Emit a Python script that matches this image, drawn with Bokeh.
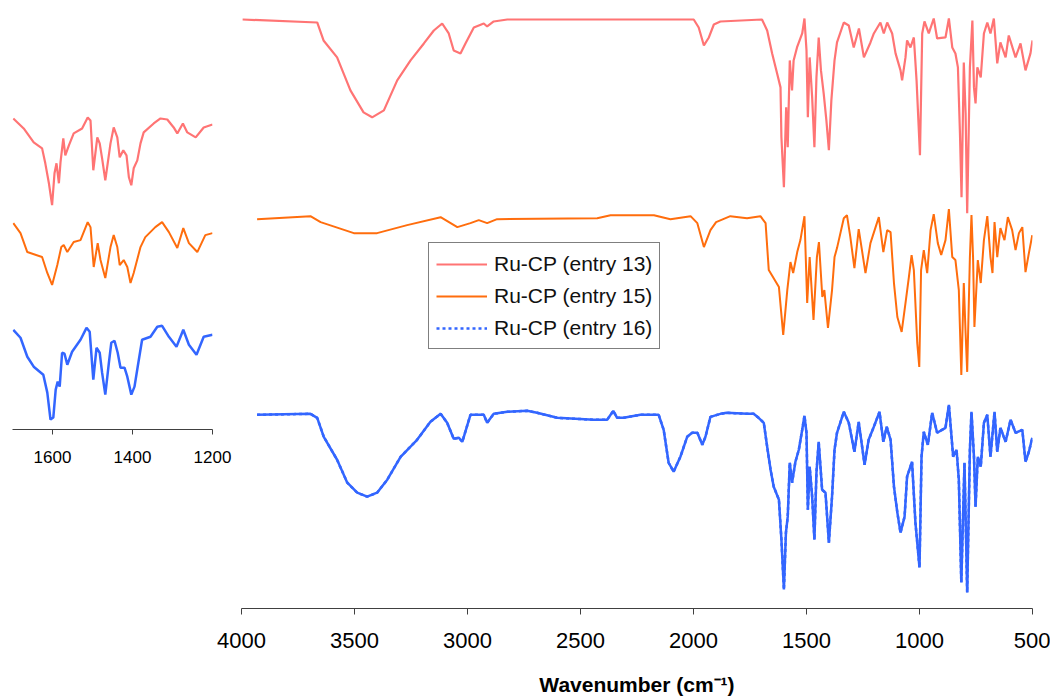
from bokeh.plotting import figure
from bokeh.models import Range1d, FixedTicker, Legend, LegendItem
from bokeh.layouts import row
from bokeh.embed import file_html
from bokeh.resources import INLINE

# ---------------- data (wavenumber in cm-1, offset transmittance in a.u.) ----------------
wn_13 = [3995, 3665, 3637, 3577, 3518, 3460, 3422, 3370, 3311, 3252, 3193, 3149, 3112, 3083, 3061,
         3031, 3009, 2972, 2928, 2913, 2884, 2824, 2400, 1999, 1977, 1954, 1932, 1910, 1881, 1697,
         1674, 1652, 1630, 1615, 1611, 1600, 1590, 1583, 1574, 1564, 1557, 1542, 1519, 1509, 1500,
         1494, 1486, 1475, 1465, 1456, 1446, 1436, 1424, 1412, 1401, 1390, 1376, 1365, 1335, 1313,
         1291, 1268, 1246, 1217, 1202, 1173, 1158, 1143, 1121, 1106, 1084, 1077, 1062, 1055, 1040,
         1025, 1013, 998, 988, 978, 959, 937, 922, 885, 870, 855, 841, 830, 821, 814,
         804, 796, 789, 777, 766, 759, 752, 744, 729, 715, 700, 686, 671, 656, 642,
         619, 605, 575, 553, 531, 509, 500]
t_13 = [588, 585, 567, 550, 517, 495, 490, 497, 527, 547, 564, 577, 584, 574, 557,
        554, 564, 580, 584, 581, 586, 588, 588, 588, 580, 562, 570, 583, 586, 588,
        577, 554, 534, 520, 470, 420, 500, 460, 547, 517, 547, 560, 574, 589, 557,
        490, 550, 510, 460, 530, 570, 537, 514, 487, 457, 507, 547, 565, 585, 582,
        560, 579, 550, 565, 574, 585, 574, 585, 574, 554, 537, 527, 550, 567, 560,
        570, 527, 452, 574, 586, 574, 589, 569, 570, 589, 560, 554, 540, 474, 410,
        545, 494, 394, 540, 587, 520, 504, 540, 530, 574, 585, 574, 589, 544, 565,
        550, 572, 550, 564, 537, 554, 567]

wn_15 = [3931, 3695, 3650, 3503, 3400, 3267, 3119, 3045, 2987, 2950, 2913, 2869, 2426, 2367, 2175,
         2102, 2013, 1983, 1954, 1925, 1900, 1837, 1763, 1704, 1681, 1667, 1622, 1603, 1585, 1571,
         1559, 1541, 1527, 1509, 1497, 1486, 1469, 1454, 1445, 1430, 1421, 1405, 1387, 1376, 1365,
         1335, 1321, 1306, 1288, 1269, 1239, 1217, 1180, 1160, 1143, 1128, 1113, 1098, 1079, 1062,
         1047, 1035, 1025, 1010, 1001, 993, 981, 966, 951, 937, 919, 904, 885, 870, 855,
         841, 826, 815, 804, 796, 789, 777, 770, 763, 757, 748, 742, 729, 715, 700,
         686, 677, 668, 656, 642, 624, 609, 590, 575, 560, 545, 531, 516, 501]
t_15 = [388, 391, 385, 374, 374, 382, 390, 380, 384, 387, 384, 388, 389, 392, 392,
        388, 391, 384, 360, 377, 385, 391, 389, 391, 384, 337, 320, 272, 317, 345,
        334, 355, 367, 391, 304, 350, 287, 350, 365, 310, 317, 279, 317, 350, 359,
        389, 392, 370, 339, 378, 334, 364, 390, 355, 377, 375, 324, 290, 275, 304,
        330, 352, 337, 264, 240, 337, 357, 334, 377, 393, 364, 352, 367, 398, 350,
        347, 317, 232, 324, 274, 235, 350, 392, 350, 280, 320, 347, 324, 367, 391,
        350, 334, 385, 350, 379, 367, 390, 377, 357, 374, 380, 335, 354, 372]

wn_16 = [3931, 3695, 3665, 3636, 3577, 3532, 3488, 3444, 3400, 3355, 3296, 3223, 3164, 3119, 3090,
         3061, 3038, 3023, 2987, 2928, 2913, 2884, 2824, 2736, 2692, 2603, 2441, 2382, 2355, 2338,
         2309, 2235, 2154, 2132, 2110, 2088, 2058, 2028, 2006, 1983, 1961, 1947, 1925, 1881, 1853,
         1763, 1734, 1712, 1689, 1674, 1659, 1645, 1622, 1611, 1600, 1591, 1583, 1574, 1564, 1549,
         1534, 1519, 1509, 1500, 1494, 1486, 1475, 1465, 1456, 1446, 1431, 1416, 1401, 1387, 1376,
         1365, 1335, 1313, 1288, 1269, 1243, 1225, 1202, 1177, 1160, 1145, 1128, 1113, 1098, 1084,
         1066, 1055, 1033, 1018, 1000, 991, 981, 963, 944, 922, 885, 870, 851, 836, 826,
         815, 801, 789, 777, 770, 759, 752, 742, 729, 715, 700, 686, 668, 656, 642,
         619, 597, 575, 545, 531, 516, 501]
t_16 = [192, 193, 189, 170, 147, 124, 114, 110, 114, 127, 150, 167, 185, 193, 184,
        168, 169, 165, 192, 192, 184, 193, 195, 196, 194, 189, 187, 187, 196, 189,
        189, 192, 192, 177, 144, 135, 150, 170, 174, 174, 162, 170, 190, 193, 194,
        193, 193, 189, 184, 160, 137, 120, 107, 67, 17, 74, 90, 144, 124, 145,
        157, 177, 191, 174, 97, 140, 110, 67, 134, 165, 117, 114, 64, 110, 157,
        174, 195, 184, 155, 185, 142, 167, 180, 195, 165, 180, 167, 120, 94, 74,
        90, 130, 145, 84, 39, 150, 175, 162, 194, 174, 179, 202, 150, 157, 127,
        24, 144, 14, 157, 195, 150, 100, 150, 140, 184, 192, 150, 195, 155, 179,
        165, 187, 174, 177, 145, 155, 169]

# inset (1700-1200 cm-1)
wn_in_13 = [1698, 1672, 1647, 1626, 1618, 1609, 1601, 1595, 1590, 1584, 1580, 1573, 1568, 1559, 1547,
            1526, 1512, 1505, 1498, 1488, 1482, 1476, 1468, 1462, 1455, 1447, 1438, 1432, 1423, 1415,
            1409, 1403, 1397, 1388, 1380, 1372, 1347, 1330, 1313, 1297, 1288, 1274, 1263, 1242, 1222,
            1200]
t_in_13 = [312, 302, 288, 282, 267, 247, 225, 257, 267, 247, 268, 292, 275, 285, 297,
           302, 313, 310, 260, 293, 287, 272, 250, 267, 287, 303, 293, 273, 280, 275,
           253, 245, 262, 270, 287, 298, 307, 312, 311, 303, 297, 307, 298, 293, 303,
           306]
wn_in_15 = [1698, 1680, 1663, 1626, 1613, 1601, 1588, 1578, 1572, 1563, 1547, 1530, 1512, 1505, 1497,
            1487, 1480, 1468, 1455, 1447, 1438, 1432, 1422, 1413, 1405, 1397, 1380, 1368, 1343, 1326,
            1309, 1288, 1273, 1259, 1238, 1218, 1200]
t_in_15 = [207, 197, 178, 173, 157, 145, 165, 183, 185, 178, 188, 190, 208, 203, 163,
           187, 170, 152, 183, 195, 183, 165, 170, 163, 147, 157, 183, 193, 203, 208,
           198, 182, 202, 187, 178, 195, 197]
wn_in_16 = [1698, 1680, 1663, 1647, 1623, 1613, 1605, 1598, 1592, 1587, 1582, 1576, 1570, 1563, 1551,
            1530, 1515, 1507, 1498, 1490, 1482, 1476, 1468, 1459, 1453, 1445, 1437, 1430, 1420, 1413,
            1403, 1395, 1387, 1376, 1355, 1338, 1326, 1309, 1290, 1273, 1259, 1240, 1222, 1200]
t_in_16 = [100, 92, 73, 63, 55, 37, 10, 12, 40, 48, 43, 77, 76, 65, 78,
           90, 102, 98, 50, 82, 77, 57, 35, 67, 87, 89, 77, 62, 62, 53,
           35, 43, 63, 90, 93, 103, 104, 93, 83, 100, 85, 75, 93, 95]

main_ticks = [4000, 3500, 3000, 2500, 2000, 1500, 1000, 500]
inset_ticks = [1600, 1400, 1200]
labels = ["Ru-CP (entry 13)", "Ru-CP (entry 15)", "Ru-CP (entry 16)"]
colors = ["#ff7474", "#ff6d0d", "#3366ff"]

FONT = "Liberation Sans"
TOP, BOTTOM = 13, 89

# ---------------- main figure ----------------
p = figure(width=1050, height=698, output_backend="svg", toolbar_location=None,
           x_range=Range1d(4000, 500), y_range=Range1d(-2, 594),
           min_border_left=241, min_border_right=18, min_border_top=TOP, min_border_bottom=BOTTOM)
p.outline_line_color = None
p.grid.visible = False
p.yaxis.visible = False
p.background_fill_color = "white"

r13 = p.line(wn_13, t_13, line_color=colors[0], line_width=2.2)
r15 = p.line(wn_15, t_15, line_color=colors[1], line_width=2.0)
p.line(wn_16, t_16, line_color=colors[2], line_width=2.5)
r16 = p.line(wn_16, t_16, line_color=colors[2], line_width=2.5, line_dash="3 3")

ax = p.xaxis[0]
ax.ticker = FixedTicker(ticks=main_ticks)
ax.minor_tick_line_color = None
ax.major_tick_in = 0
ax.major_tick_out = 6
ax.axis_line_color = "#404040"
ax.major_tick_line_color = "#404040"
ax.major_label_text_font = FONT
ax.major_label_text_font_size = "22px"
ax.major_label_text_color = "black"
ax.major_label_standoff = 18
ax.axis_label = "Wavenumber (cm\u207b\u00b9)"
ax.axis_label_text_font = FONT
ax.axis_label_text_font_style = "bold"
ax.axis_label_text_font_size = "21px"
ax.axis_label_text_color = "black"
ax.axis_label_standoff = 22

legend = Legend(items=[LegendItem(label=labels[0], renderers=[r13]),
                       LegendItem(label=labels[1], renderers=[r15]),
                       LegendItem(label=labels[2], renderers=[r16])],
                location=(187, 259), orientation="vertical")
legend.label_text_font = FONT
legend.label_text_font_size = "21px"
legend.label_text_color = "#111111"
legend.glyph_width = 51
legend.glyph_height = 20
legend.label_height = 27
legend.label_standoff = 7
legend.spacing = 5
legend.padding = 7
legend.margin = 0
legend.border_line_color = "black"
legend.border_line_width = 1
legend.background_fill_color = "white"
legend.background_fill_alpha = 1.0
p.add_layout(legend, "center")

# ---------------- inset figure ----------------
q = figure(width=240, height=TOP + 322 + BOTTOM, output_backend="svg", toolbar_location=None,
           x_range=Range1d(1700, 1200), y_range=Range1d(0, 322),
           min_border_left=4, min_border_right=36, min_border_top=TOP, min_border_bottom=BOTTOM)
q.outline_line_color = None
q.grid.visible = False
q.yaxis.visible = False
q.background_fill_color = None
q.border_fill_color = None
q.styles = {"position": "absolute", "left": "8px", "top": "95px", "z-index": "1"}

q.line(wn_in_13, t_in_13, line_color=colors[0], line_width=2.2)
q.line(wn_in_15, t_in_15, line_color=colors[1], line_width=2.0)
q.line(wn_in_16, t_in_16, line_color=colors[2], line_width=2.5)

qa = q.xaxis[0]
qa.ticker = FixedTicker(ticks=inset_ticks)
qa.minor_tick_line_color = None
qa.major_tick_in = 0
qa.major_tick_out = 5
qa.axis_line_color = "#404040"
qa.major_tick_line_color = "#404040"
qa.major_label_text_font = FONT
qa.major_label_text_font_size = "17px"
qa.major_label_text_color = "black"
qa.major_label_standoff = 16

layout = row(p, q)

open("out.html", "w").write(file_html(layout, INLINE))
